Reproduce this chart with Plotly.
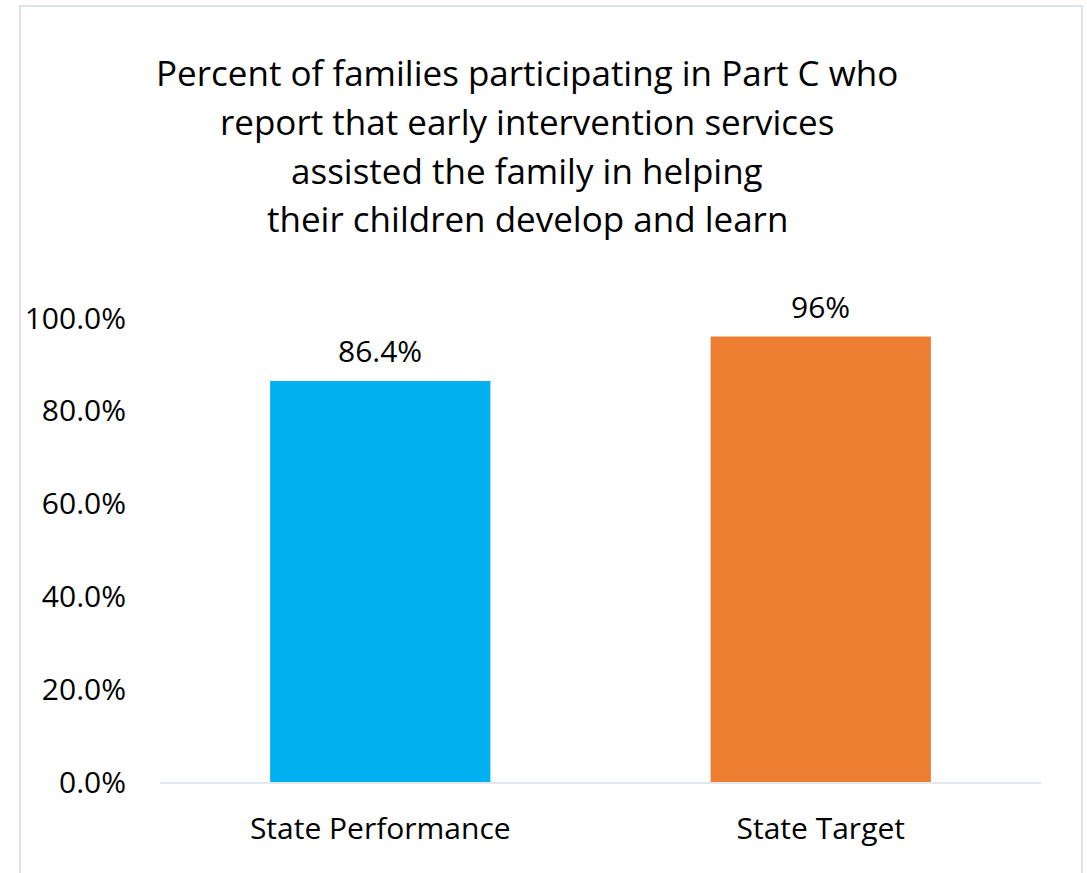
import plotly.graph_objects as go

categories = ["State Performance", "State Target"]
values = [0.864, 0.96]
value_labels = ["86.4%", "96%"]
colors = ["#00B0F0", "#ED7D31"]
tick_vals = [0, 0.2, 0.4, 0.6, 0.8, 1.0]
tick_text = ["0.0%", "20.0%", "40.0%", "60.0%", "80.0%", "100.0%"]
title_lines = [
    "Percent of families participating in Part C who",
    "report that early intervention services",
    "assisted the family in helping",
    "their children develop and learn",
]

FONT = "Open Sans"
W, H = 1087, 873
ML, MR, MT, MB = 160, W - 1041, 318, H - 782
PW, PH = W - ML - MR, H - MT - MB

def px_x(x):
    return (x - ML) / PW

def px_y(y):
    return (H - MB - y) / PH

fig = go.Figure()
fig.add_trace(go.Bar(
    x=categories, y=values, marker=dict(color=colors, line=dict(width=0)),
    hoverinfo="skip",
))

for c, v, t in zip(categories, values, value_labels):
    fig.add_annotation(x=c, y=v, text=t, showarrow=False, xref="x", yref="y",
                       yanchor="bottom", yshift=8,
                       font=dict(family=FONT, size=30, color="#000000"))

title_y = [72, 121, 170, 219]
for line, yy in zip(title_lines, title_y):
    fig.add_annotation(x=px_x(527), y=px_y(yy), xref="paper", yref="paper",
                       text=line, showarrow=False,
                       xanchor="center", yanchor="middle", align="center",
                       font=dict(family=FONT, size=35, color="#000000"))

fig.add_shape(type="rect", xref="paper", yref="paper",
              x0=px_x(20), x1=px_x(1082), y0=px_y(900), y1=px_y(6),
              line=dict(color="#DEE3EB", width=2), fillcolor="rgba(0,0,0,0)", layer="below")

fig.update_layout(
    width=W, height=H,
    margin=dict(l=ML, r=MR, t=MT, b=MB, autoexpand=False),
    paper_bgcolor="white", plot_bgcolor="white",
    bargap=0.5, showlegend=False,
    font=dict(family=FONT, size=30, color="#000000"),
    xaxis=dict(showline=True, linecolor="#E3E7EE", linewidth=2, showgrid=False,
               ticks="", ticklabelstandoff=19, tickfont=dict(size=30)),
    yaxis=dict(range=[0, 1], tickvals=tick_vals, ticktext=tick_text, showgrid=False,
               zeroline=False, showline=False, ticks="", ticklabelstandoff=33,
               tickfont=dict(size=30)),
)

fig.write_html("out.html", config={"displayModeBar": False},
               post_script="document.body.style.margin='0';document.body.style.overflow='hidden';")
